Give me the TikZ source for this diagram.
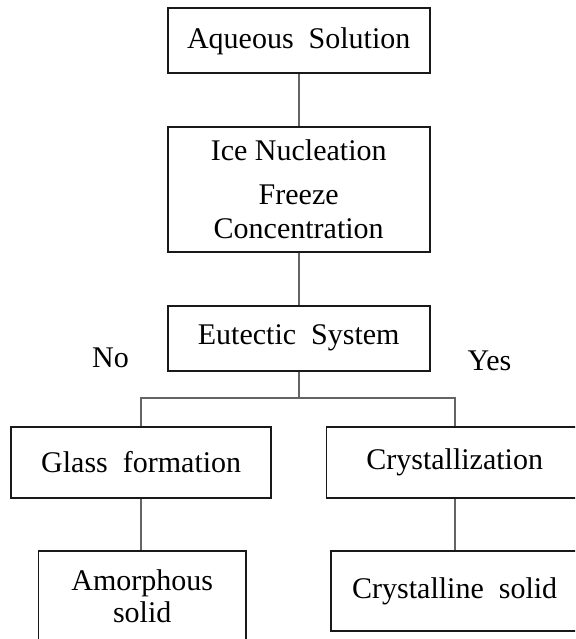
\documentclass[tikz,border=0pt]{standalone}
\usepackage{fontspec}
\setmainfont{Liberation Serif}

\definecolor{linkgray}{RGB}{100,100,100}
\tikzset{
  stagebox/.style={draw=black!90, line width=1.8pt, align=center, inner sep=0pt},
  link/.style={draw=linkgray, line width=2.4pt},
  every node/.style={font=\fontsize{30}{34}\selectfont}
}

\begin{document}
\begin{tikzpicture}[x=1pt, y=-1pt]
  \useasboundingbox (0,0) rectangle (575,639);
  \clip (0,0) rectangle (575,639);

  % Draw the main column of stages
  \node[stagebox, minimum width=262pt, minimum height=65pt] (aqueous) at (298.7,40.8) {Aqueous\ \ Solution};
  \node[stagebox, minimum width=262pt, minimum height=125pt] (icenuc) at (298.7,189.7) {Ice Nucleation\\[10pt]Freeze\\Concentration};
  \node[stagebox, minimum width=262pt, minimum height=65pt] (eutectic) at (298.7,338.2) {Eutectic\ \ System};

  % Branch labels
  \node (no) at (110.5,358) {No};
  \node (yes) at (489.5,360.5) {Yes};

  % Draw the two branches
  \node[stagebox, minimum width=260pt, minimum height=71.6pt] (glass) at (141.2,462.5) {Glass\ \ formation};
  \node[stagebox, minimum width=256.6pt, minimum height=71.6pt] (cryst) at (454.7,462.5) {Crystallization};
  \node[stagebox, minimum width=207.5pt, minimum height=89.6pt] (amorph) at (142.2,595.8) {Amorphous\\[-2pt]solid};
  \node[stagebox, minimum width=247.4pt, minimum height=80pt] (crystsolid) at (454.7,591) {Crystalline\ \ solid};

  % Connectors between the stages
  \coordinate (split) at (298.7,397.7);
  \draw[link] (aqueous) -- (icenuc);
  \draw[link] (icenuc) -- (eutectic);
  \draw[link] (eutectic) -- (split);
  \draw[link] (glass.north) |- (split) -| (cryst.north);
  \draw[link] (glass.south) -- (glass.south |- amorph.north);
  \draw[link] (cryst) -- (crystsolid);

\end{tikzpicture}
\end{document}
